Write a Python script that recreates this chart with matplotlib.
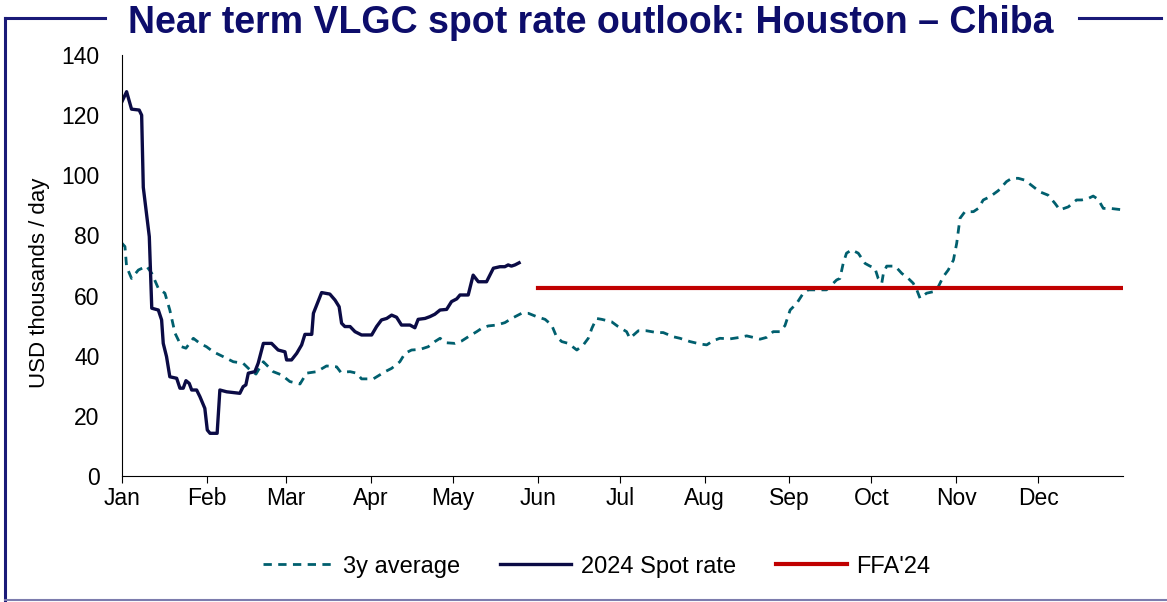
import numpy as np
import matplotlib
matplotlib.use('agg')
import matplotlib.pyplot as plt
from matplotlib.lines import Line2D

plt.rcParams['font.family'] = ['Liberation Sans', 'DejaVu Sans']

# day of year (0 = 1 Jan 2024) and USD thousands / day
spot_day = [0, 1.7, 3.5, 6.3, 7.2, 7.8, 10, 10.9, 13.3, 14.5,
            15.1, 16.3, 17.5, 20, 21.2, 22.4, 23.4, 24.6, 25.5, 27.3,
            28.5, 30.3, 31.2, 32.2, 34.8, 35.8, 38.3, 43.1, 44.3, 45.3,
            46.2, 48.6, 49.8, 51.7, 54.7, 57.1, 59.6, 60.2, 62, 63.9,
            65.7, 66.9, 69.4, 70, 73, 76, 77.9, 79.4, 80.3, 81.5,
            83.4, 85.2, 87.6, 91.3, 93.1, 94.9, 96.8, 98.6, 100.4, 102.2,
            105.3, 107.1, 108.3, 110.8, 112.6, 114.4, 116.3, 118.7, 120.5, 122.4,
            123.6, 126.6, 128.4, 130.3, 133.3, 135.8, 138.2, 140, 141.2, 142.4,
            143.7, 145.2]
spot_rate = [124.5, 127.8, 122, 121.7, 120, 96, 79.6, 55.8, 55.2, 51.9,
             44.1, 39.7, 33, 32.5, 29.2, 29.2, 31.7, 30.8, 28.6, 28.6,
             26.4, 22.5, 15.3, 14.2, 14.2, 28.6, 28, 27.5, 29.7, 30.3,
             34.2, 34.7, 37.5, 44.1, 44.1, 41.9, 41.3, 38.6, 38.6, 40.8,
             43.6, 47.1, 47.1, 54.1, 61, 60.5, 58.5, 56.3, 50.8, 49.7,
             49.7, 48, 46.9, 46.9, 49.7, 51.9, 52.4, 53.5, 52.8, 50.2,
             50.2, 49.3, 52.1, 52.4, 53, 53.8, 55.2, 55.4, 58, 58.9,
             60.2, 60.2, 66.8, 64.6, 64.6, 69.1, 69.6, 69.6, 70.2, 69.8,
             70.2, 70.9]

avg_day = [0, 1.1, 1.7, 3.5, 6, 9, 10.9, 13.3, 15.7, 17.5,
           19.4, 21.8, 23.4, 26.1, 28.5, 30.9, 33.4, 37, 40.7, 44.3,
           46.8, 49, 51.7, 55.3, 58.4, 61.4, 65.1, 67.5, 71.2, 74.8,
           78.5, 80, 83.4, 85.8, 87.6, 91.9, 96.2, 98.6, 101.6, 103.5,
           105.9, 109, 112, 114.4, 116.3, 118.7, 121.8, 124.2, 126.6, 129.7,
           131.5, 133.9, 137, 140, 142.5, 146.1, 148.6, 151.6, 154.7, 157.1,
           158.9, 160.8, 163.2, 166.3, 168.7, 170.5, 171.8, 173.5, 175.4, 179,
           181.4, 184.5, 185.7, 188.8, 191.8, 195.5, 197.9, 201.6, 204, 207.7,
           211.4, 213.8, 216.2, 218.6, 222.3, 225.9, 228.4, 230.8, 233.3, 235.7,
           238.1, 240.6, 242.4, 244.3, 246.7, 249.1, 250.9, 254, 257.6, 261.3,
           262.5, 263.7, 264.9, 266.8, 269.2, 271.7, 273.5, 275.3, 276.5, 277.8,
           278.4, 279.6, 282.7, 285.1, 287.5, 289.3, 290.6, 291.8, 294.2, 296.7,
           298.5, 300.3, 302.1, 304, 305.2, 306.4, 308.2, 311.3, 313.1, 314.9,
           317.4, 320.4, 323.4, 325.3, 327.7, 330.1, 333.2, 335.6, 338.6, 341.1,
           342.9, 346, 349, 350.9, 353.3, 355.1, 356.9, 358.8, 361.3, 364.3,
           366]
avg_rate = [77.4, 76.3, 69.6, 65.7, 68.5, 69.8, 67.4, 62.4, 60.8, 55.2,
            47.5, 43, 42.5, 45.8, 44.1, 43, 41.3, 39.7, 38, 37.5,
            35.3, 33.9, 38, 34.7, 33.6, 31.4, 30.6, 34.2, 34.7, 36.6,
            36.3, 34.5, 34.7, 34.2, 32.3, 32.3, 34.7, 35.8, 38, 40.8,
            41.9, 42.1, 43, 44.7, 45.8, 44.3, 44.1, 44.9, 46.3, 48,
            49.1, 49.9, 50.2, 51, 52.4, 54.1, 54.1, 53, 52.1, 50.2,
            46.3, 44.7, 44.1, 41.9, 43.6, 45.8, 49.1, 52.4, 52.1, 51.3,
            49.7, 48, 45.8, 48.3, 48.3, 47.7, 47.7, 46.3, 45.8, 44.7,
            43.9, 43.6, 45, 45.8, 45.6, 46.1, 46.6, 46.1, 45.5, 46.1,
            48, 48, 50, 55.2, 57.4, 60.8, 61.9, 61.9, 61.9, 65.2,
            65.7, 70.7, 74.1, 75.2, 74.1, 70.7, 69.8, 69.1, 65.7, 64.1,
            67.4, 69.8, 69.8, 67.4, 65.7, 64.1, 61.9, 59.1, 60.8, 61.3,
            63, 66.3, 68.5, 71.8, 77.4, 85.7, 87.9, 87.9, 89, 91.8,
            92.9, 94.9, 97.9, 99, 99, 98.4, 96.2, 94.5, 93.4, 90.7,
            88.5, 89.5, 91.8, 91.8, 92.3, 93.1, 92, 89, 89, 88.7,
            88.5]

ffa_day = [152, 366]
ffa_rate = [62.5, 62.5]

month_start = [0, 31, 60, 91, 121, 152, 182, 213, 244, 274, 305, 335]
month_names = ['Jan', 'Feb', 'Mar', 'Apr', 'May', 'Jun',
               'Jul', 'Aug', 'Sep', 'Oct', 'Nov', 'Dec']

navy = '#0b0b45'
teal = '#005f6e'
red = '#c00000'
frame = '#1a1a78'

fig = plt.figure(figsize=(11.67, 6.02), dpi=100)
ax = fig.add_axes([0.1045, 0.2093, 0.8578, 0.6993])

ax.plot(avg_day, avg_rate, color=teal, lw=2.0, dashes=(3, 2.3), label='3y average')
ax.plot(spot_day, spot_rate, color=navy, lw=2.4, label='2024 Spot rate')
ax.plot(ffa_day, ffa_rate, color=red, lw=3.0, label="FFA'24")

ax.set_xlim(0, 366)
ax.set_ylim(0, 140)
ax.set_yticks(np.arange(0, 141, 20))
ax.set_xticks(month_start)
ax.set_xticklabels(month_names)
ax.tick_params(axis='y', length=0, labelsize=16.5, pad=16)
ax.tick_params(axis='x', length=5, labelsize=16.5, pad=3)
for s in ['top', 'right']:
    ax.spines[s].set_visible(False)
ax.set_ylabel('USD thousands / day', fontsize=16)
ax.yaxis.set_label_coords(-0.072, 0.46)

ax.legend(loc='center', bbox_to_anchor=(0.474, -0.215), ncol=3, frameon=False,
          fontsize=17, handlelength=3.0, columnspacing=1.7, handletextpad=0.4)

# outer frame with title breaking the top line
fig.add_artist(Line2D([0.0043, 0.0043], [0.003, 0.97], color=frame, lw=2.2))
fig.add_artist(Line2D([0.0043, 0.09], [0.97, 0.97], color=frame, lw=2.2))
fig.add_artist(Line2D([0.925, 0.995], [0.97, 0.97], color=frame, lw=2.2))
fig.add_artist(Line2D([0.0043, 1.0], [0.003, 0.003], color='#7c7cae', lw=1.5))
fig.text(0.506, 0.961, 'Near term VLGC spot rate outlook: Houston \u2013 Chiba',
         ha='center', va='center', fontsize=27, fontweight='bold', color='#0d0d6b')

plt.savefig('out.png', dpi=100)
